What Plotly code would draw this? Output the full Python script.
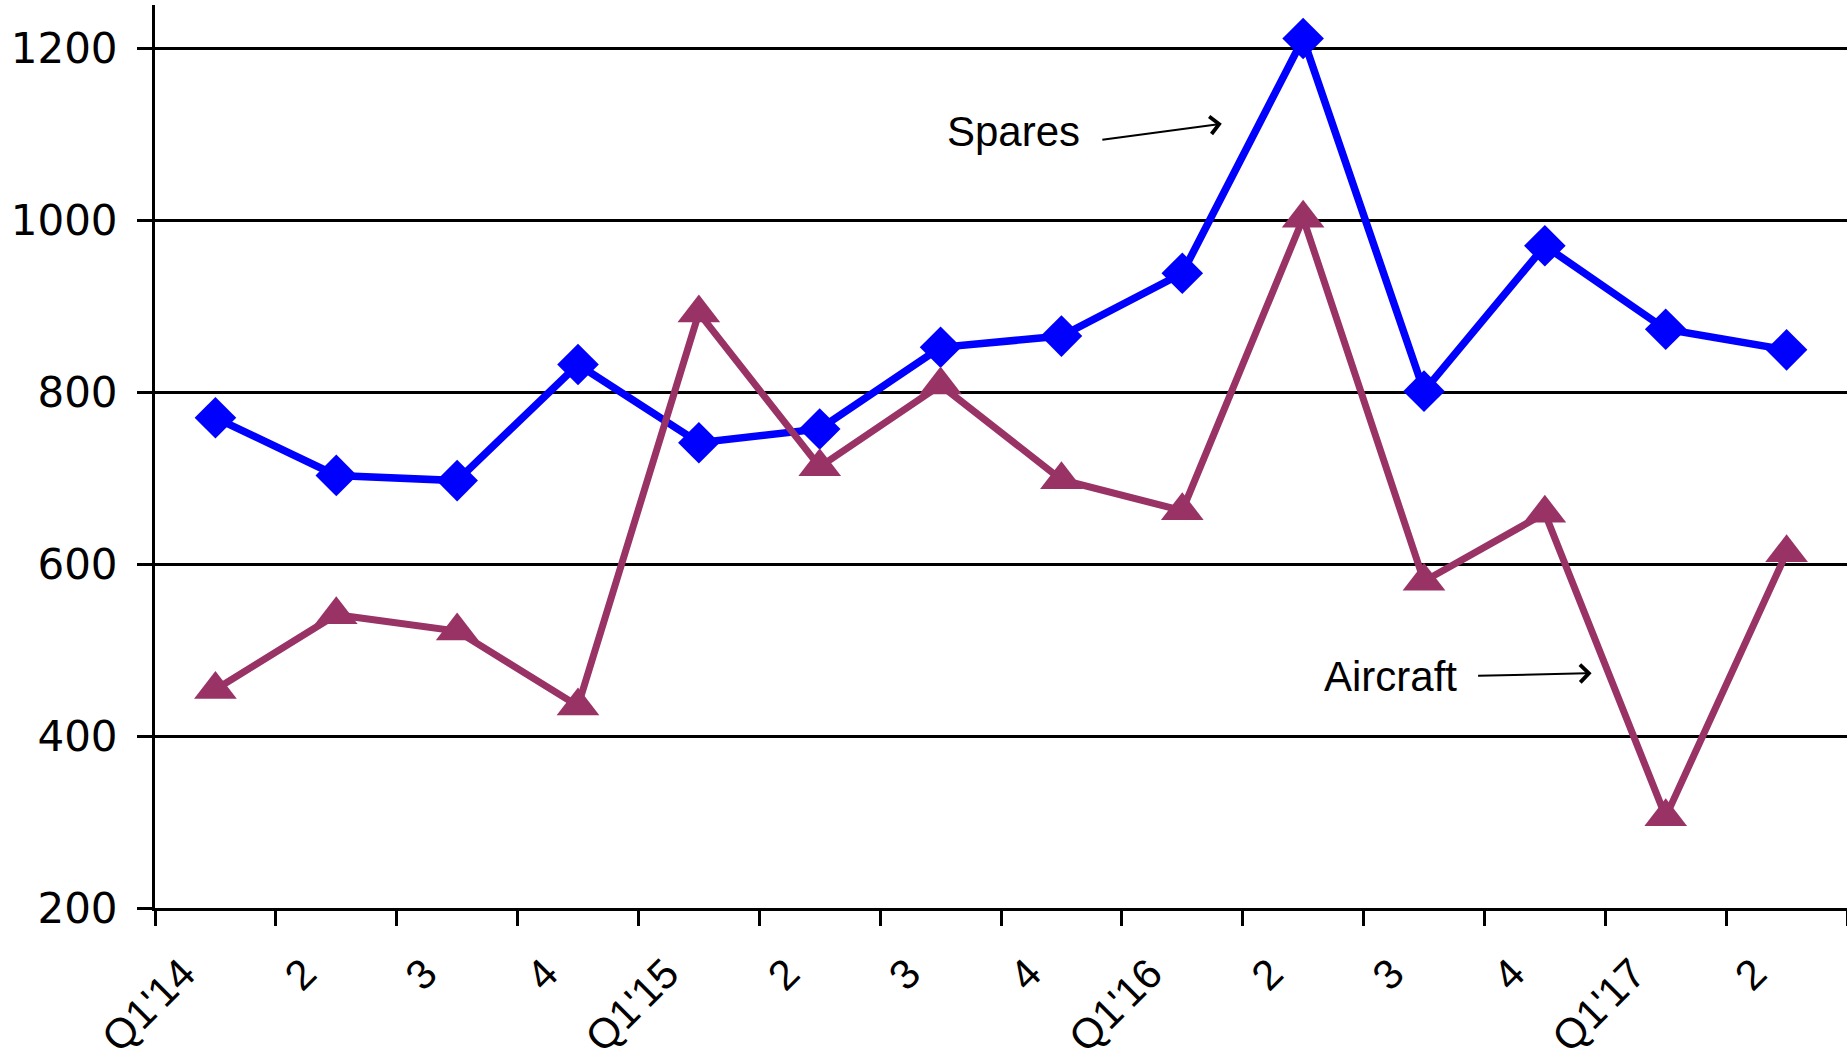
import plotly.graph_objects as go

# Quarterly values (Q1'14 .. Q2'17)
quarters = ["Q1'14", "Q2'14", "Q3'14", "Q4'14",
            "Q1'15", "Q2'15", "Q3'15", "Q4'15",
            "Q1'16", "Q2'16", "Q3'16", "Q4'16",
            "Q1'17", "Q2'17"]
tick_labels = ["Q1'14", "2", "3", "4",
               "Q1'15", "2", "3", "4",
               "Q1'16", "2", "3", "4",
               "Q1'17", "2"]
spares = [770, 703, 697, 832, 741, 757, 852, 865, 938, 1211, 801, 970, 873, 849]
aircraft = [454, 541, 522, 435, 892, 713, 808, 698, 662, 1002, 580, 659, 306, 613]
y_ticks = [200, 400, 600, 800, 1000, 1200]

# each quarter occupies one unit slot; points sit in the middle of their slot
x_pos = [i + 0.5 for i in range(len(quarters))]
slot_edges = list(range(len(quarters) + 1))

FONT = "Liberation Sans, Arial, sans-serif"

fig = go.Figure()
fig.add_trace(go.Scatter(
    x=x_pos, y=spares, name="Spares", mode="lines+markers",
    text=quarters,
    line=dict(color="#0000FF", width=7.5),
    marker=dict(symbol="diamond", size=32, color="#0000FF", line=dict(width=0)),
))
fig.add_trace(go.Scatter(
    x=x_pos, y=aircraft, name="Aircraft", mode="lines+markers",
    text=quarters,
    line=dict(color="#993366", width=7),
    marker=dict(symbol="triangle-up", size=37, color="#993366", line=dict(width=0)),
))

# series labels with thin pointer arrows
fig.add_annotation(x=6.54, y=1103, xref="x", yref="y", text="Spares",
                   showarrow=False, xanchor="left", yanchor="middle",
                   font=dict(family=FONT, size=42, color="black"))
fig.add_annotation(x=8.827, y=1112, ax=7.826, ay=1093, xref="x", yref="y",
                   axref="x", ayref="y", text="", showarrow=True,
                   arrowhead=4, arrowsize=1.7, arrowwidth=2, arrowcolor="black")
fig.add_annotation(x=9.66, y=469, xref="x", yref="y", text="Aircraft",
                   showarrow=False, xanchor="left", yanchor="middle",
                   font=dict(family=FONT, size=42, color="black"))
fig.add_annotation(x=11.887, y=473, ax=10.935, ay=470, xref="x", yref="y",
                   axref="x", ayref="y", text="", showarrow=True,
                   arrowhead=4, arrowsize=1.7, arrowwidth=2, arrowcolor="black")

fig.update_layout(
    width=1847, height=1061,
    margin=dict(l=155, r=0, t=5, b=153, pad=0, autoexpand=False),
    paper_bgcolor="white", plot_bgcolor="white",
    showlegend=False,
    font=dict(family=FONT, size=42, color="black"),
)
fig.update_xaxes(
    range=[0, len(quarters)], automargin=False,
    tickmode="array", tickvals=slot_edges, ticktext=tick_labels + [""],
    tickangle=-45, ticks="outside", ticklen=15, tickwidth=2.5, tickcolor="black",
    ticklabelshift=28, ticklabelstandoff=6,
    showline=True, linecolor="black", linewidth=3,
    showgrid=False, zeroline=False,
    tickfont=dict(family=FONT, size=42, color="black"),
)
fig.update_yaxes(
    range=[200, 1250], automargin=False,
    tickmode="array", tickvals=y_ticks,
    ticks="outside", ticklen=15, tickwidth=2.5, tickcolor="black",
    showline=True, linecolor="black", linewidth=3,
    showgrid=True, gridcolor="black", gridwidth=2.5, zeroline=False,
    ticklabelstandoff=11,
    tickfont=dict(family="DejaVu Sans, sans-serif", size=42, color="black"),
)

fig.write_html("out.html")
